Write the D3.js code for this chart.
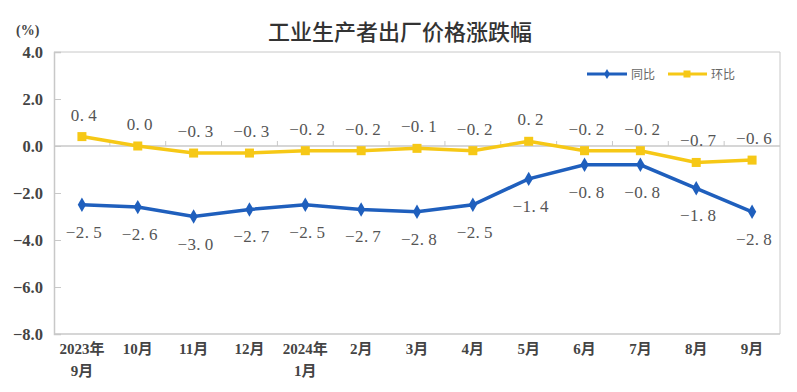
<!DOCTYPE html>
<html><head><meta charset="utf-8">
<script src="https://cdn.jsdelivr.net/npm/d3@7"></script>
<style>body{margin:0;background:#fff}svg{display:block}</style>
</head><body><div id="chart"></div>
<script>
const categories = [["2023年","9月"],["10月"],["11月"],["12月"],["2024年","1月"],["2月"],["3月"],["4月"],["5月"],["6月"],["7月"],["8月"],["9月"]];
const yoy = [-2.5,-2.6,-3.0,-2.7,-2.5,-2.7,-2.8,-2.5,-1.4,-0.8,-0.8,-1.8,-2.8];
const mom = [0.4,0.0,-0.3,-0.3,-0.2,-0.2,-0.1,-0.2,0.2,-0.2,-0.2,-0.7,-0.6];
const yTicks = [4,2,0,-2,-4,-6,-8];
const seriesNames = ["同比","环比"];
const title = "工业生产者出厂价格涨跌幅";

const W=797,H=392;
const m={l:54,r:780,t:52,b:334};
const svg=d3.select("#chart").append("svg").attr("width",W).attr("height",H);
const x=d3.scaleBand().domain(d3.range(categories.length)).range([m.l,m.r]);
const y=d3.scaleLinear().domain([-8,4]).range([m.b,m.t]);
const cx=i=>x(i)+x.bandwidth()/2;
const axisCol="#c8c8c8";
const serif="'Liberation Serif','DejaVu Serif','Noto Sans CJK SC',serif";

// title
svg.append("text").attr("x",400).attr("y",40).attr("text-anchor","middle")
 .attr("font-family","'Noto Sans CJK SC',sans-serif").attr("font-size",22).attr("font-weight",500)
 .attr("fill","#333").text(title);
svg.append("text").attr("x",16).attr("y",35).attr("font-family",serif).attr("font-size",14)
 .attr("font-weight","bold").attr("fill","#444").text("(%)");

// frame
svg.append("line").attr("x1",m.l).attr("x2",m.r).attr("y1",m.t).attr("y2",m.t).attr("stroke",axisCol);
svg.append("line").attr("x1",m.r).attr("x2",m.r).attr("y1",m.t).attr("y2",m.b).attr("stroke",axisCol);

// y axis
const ya=svg.append("g").attr("transform",`translate(${m.l},0)`)
 .call(d3.axisLeft(y).tickValues(yTicks).tickSize(-7).tickPadding(11).tickFormat(d3.format(".1f")));
ya.select(".domain").attr("stroke",axisCol).attr("stroke-width",1.5);
ya.selectAll(".tick line").attr("stroke",axisCol);
ya.selectAll(".tick text").attr("font-family",serif).attr("font-size",16.5).attr("font-weight","bold").attr("fill","#444");

// bottom axis line
svg.append("line").attr("x1",m.l).attr("x2",m.r).attr("y1",m.b).attr("y2",m.b).attr("stroke",axisCol).attr("stroke-width",1.5);
// zero line with ticks
svg.append("line").attr("x1",m.l).attr("x2",m.r).attr("y1",y(0)).attr("y2",y(0)).attr("stroke",axisCol).attr("stroke-width",1.5);
svg.selectAll(".zt").data(d3.range(1,categories.length)).enter().append("line")
 .attr("x1",i=>x(i)).attr("x2",i=>x(i)).attr("y1",y(0)).attr("y2",y(0)-5).attr("stroke",axisCol);

// x labels
const xl=svg.selectAll(".xl").data(categories).enter().append("text")
 .attr("text-anchor","middle").attr("font-family",serif).attr("font-size",15).attr("font-weight","bold").attr("fill","#444");
xl.each(function(d,i){
  d.forEach((s,k)=>d3.select(this).append("tspan").attr("x",cx(i)).attr("y",354+k*22).text(s));
});

const line=d3.line().x((d,i)=>cx(i)).y(d=>y(d));
const blue="#1f5fbd", yellow="#f6c816";
// mom
svg.append("path").datum(mom).attr("d",line).attr("fill","none").attr("stroke",yellow).attr("stroke-width",3.5);
svg.selectAll(".sq").data(mom).enter().append("rect")
 .attr("x",(d,i)=>cx(i)-4.5).attr("y",d=>y(d)-4.5).attr("width",9).attr("height",9).attr("fill",yellow);
// yoy
svg.append("path").datum(yoy).attr("d",line).attr("fill","none").attr("stroke",blue).attr("stroke-width",3.5);
svg.selectAll(".dm").data(yoy).enter().append("path")
 .attr("d",d3.symbol(d3.symbolDiamond,60)).attr("transform",(d,i)=>`translate(${cx(i)},${y(d)})`).attr("fill",blue);

const fmt=v=>v.toFixed(1).replace("-","−").replace(".",".\u2009");
// labels
svg.selectAll(".ml").data(mom).enter().append("text")
 .attr("x",(d,i)=>cx(i)+2).attr("y",d=>y(d)-16).attr("text-anchor","middle")
 .attr("font-family",serif).attr("font-size",17).attr("letter-spacing",0.4).attr("fill","#555")
 .text(fmt);
svg.selectAll(".yl").data(yoy).enter().append("text")
 .attr("x",(d,i)=>cx(i)+2).attr("y",d=>y(d)+33).attr("text-anchor","middle")
 .attr("font-family",serif).attr("font-size",17).attr("letter-spacing",0.4).attr("fill","#555")
 .text(fmt);

// legend
const lg=svg.append("g");
lg.append("line").attr("x1",587).attr("x2",627).attr("y1",74).attr("y2",74).attr("stroke",blue).attr("stroke-width",3);
lg.append("path").attr("d",d3.symbol(d3.symbolDiamond,30)).attr("transform","translate(607,74)").attr("fill",blue);
lg.append("text").attr("x",631).attr("y",78.5).attr("font-family","'Noto Sans CJK SC',sans-serif").attr("font-size",12).attr("fill","#666").text(seriesNames[0]);
lg.append("line").attr("x1",668).attr("x2",707).attr("y1",74).attr("y2",74).attr("stroke",yellow).attr("stroke-width",3);
lg.append("rect").attr("x",683.5).attr("y",70.5).attr("width",7).attr("height",7).attr("fill",yellow);
lg.append("text").attr("x",711).attr("y",78.5).attr("font-family","'Noto Sans CJK SC',sans-serif").attr("font-size",12).attr("fill","#666").text(seriesNames[1]);
</script></body></html>
